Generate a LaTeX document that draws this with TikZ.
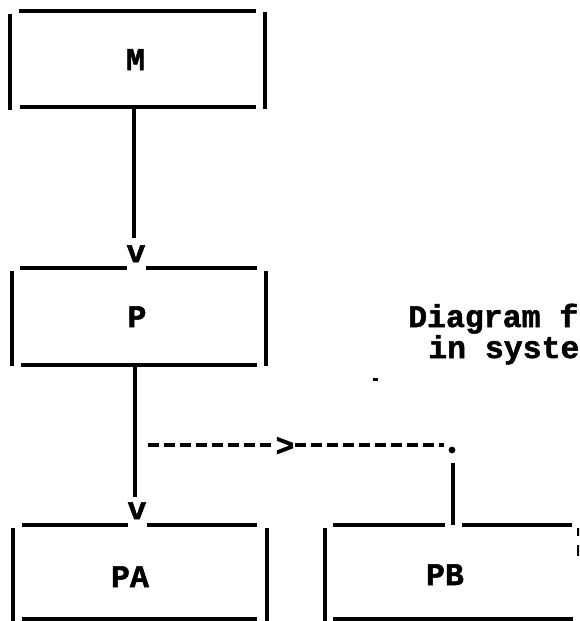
\documentclass[tikz,border=0pt]{standalone}
\usepackage{fontspec}
\setmonofont{Liberation Mono}[BoldFeatures={FakeBold=1.6}]
\begin{document}
\begin{tikzpicture}[x=1pt,y=-1pt,
  lbl/.style={font=\ttfamily\bfseries\fontsize{31.5}{32}\selectfont, inner sep=0pt, anchor=base},
  txt/.style={font=\ttfamily\bfseries\fontsize{31.5}{32}\selectfont, inner sep=0pt, anchor=base west},
  seg/.style={line width=3.8pt},
  dsh/.style={line width=3.8pt, dash pattern=on 11pt off 5pt}]
\useasboundingbox (0,0) rectangle (579,621);
\clip (0,0) rectangle (579,621);
% labels
\node[lbl] (M) at (135.5,70) {M};
\node[lbl] (P) at (137,327) {P};
\node[lbl] (PA) at (130,587) {PA};
\node[lbl] (PB) at (445,585) {PB};
\node[lbl] (vP) at (136,262) {v};
\node[lbl] (vPA) at (137,519) {v};
\node[lbl] (gt) at (285,456) {>};
\node[txt] (t1) at (408,327) {Diagram fo};
\node[txt] (t2) at (428,358) {in system};
% box M
\draw[seg] (19,11) -- (256,11);
\draw[seg] (10,14) -- (10,110);
\draw[seg] (265,12) -- (265,109);
\draw[seg] (20,107) -- (256,107);
% box P
\draw[seg] (20,268) -- (127,268);
\draw[seg] (146,268) -- (257,268);
\draw[seg] (12,271) -- (12,366);
\draw[seg] (266,271) -- (266,366);
\draw[seg] (21,365) -- (257,365);
% box PA
\draw[seg] (22,525) -- (128,525);
\draw[seg] (147,525) -- (257,525);
\draw[seg] (13,528) -- (13,625);
\draw[seg] (267,528) -- (267,625);
\draw[seg] (22,619) -- (257,619);
% box PB
\draw[seg] (325,528) -- (325,625);
\draw[seg] (333,525) -- (445,525);
\draw[seg] (462,525) -- (572,525);
\draw[seg] (333,619) -- (573,619);
\draw[seg] (578.5,528) -- (578.5,536);
\draw[seg] (578.5,545) -- (578.5,556);
% connectors
\coordinate (Mb) at (134,107);
\coordinate (Pb) at (135,365);
\coordinate (Pend) at (135,497);
\coordinate (Mend) at (134,238);
\draw[seg] (Mb) -- (Mend);
\draw[seg] (Pb) -- (Pend);
\coordinate (ds) at (148,445);
\coordinate (dot) at (452,450);
\coordinate (de) at (444,445);
\coordinate (vt) at (453,463);
\coordinate (PBt) at (453,525);
\draw[dsh] (ds) -- (gt.west |- ds);
\draw[dsh] (gt.east |- ds) -- (de);
\fill (dot) circle (3.4pt);
\draw[seg] (vt) -- (PBt);
% stray mark
\fill (373,378) rectangle (378,381);
\end{tikzpicture}
\end{document}
